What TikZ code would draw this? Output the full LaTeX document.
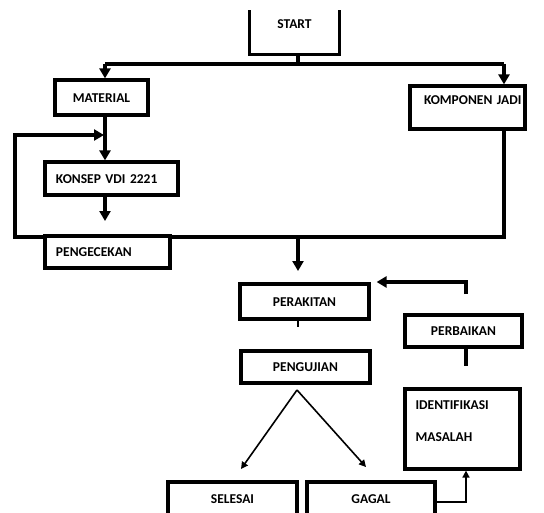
\documentclass[tikz,border=0pt]{standalone}
\usepackage{fontspec}
\setmainfont{Carlito}[BoldFont={Carlito Bold}]
\usetikzlibrary{%
  calc,
  positioning,
  backgrounds,
  arrows.meta,
}

\tikzset{
  box/.style={draw, line width=3.2pt, fill=white,
    font=\bfseries\fontsize{13.5}{15}\selectfont,
    text height=9pt, text depth=0pt, inner sep=0pt},
  conn/.style={line width=3.4pt},
  bigtip/.style={-{Triangle[length=10pt,width=11pt]}},
  thinarrow/.style={line width=1.6pt, -{Triangle[length=7pt,width=7pt]}},
}

\begin{document}
\begin{tikzpicture}[x=1pt,y=-1pt]
        \useasboundingbox (0,0) rectangle (544,512);
        \clip (0,0) rectangle (544,512);
        % units = pixels, y grows downwards

        \coordinate (jl) at (105,64);
        \coordinate (jm) at (298,64);
        \coordinate (jr) at (504,64);
        \coordinate (low) at (15,237);
        \coordinate (back) at (15,135);
        \coordinate (cekin) at (105,221);
        \coordinate (mid) at (298,237);
        \coordinate (rakitin) at (298,271);
        \coordinate (fixup) at (466,294);
        \coordinate (fixtop) at (466,282);
        \coordinate (fork) at (297,390);
        \coordinate (toselesai) at (241,469);
        \coordinate (togagal) at (366,467);

        \node (start) [box, draw=none, minimum width=87pt,
          minimum height=41pt, text depth=17pt] at (294.5,32.5) {START};
        \draw[line width=3.2pt] (start.north west) -- (start.south west)
          -- (start.south east) -- (start.north east);

        \node (material) [box, minimum width=93pt,
          minimum height=35pt] at (101.5,97.5) {MATERIAL};
        \node (komponen) [box, minimum height=43pt, text width=87pt,
          align=left, inner xsep=14pt, text depth=15pt]
          at (467.5,107.5) {\mbox{KOMPONEN JADI}};
        \node (konsep) [box, minimum height=33pt, text width=111pt,
          align=left, inner xsep=11pt] at (111.5,178.5) {KONSEP VDI 2221};
        \node (cek) [box, minimum height=32pt, text width=103pt,
          align=left, inner xsep=11pt] at (107.5,252) {PENGECEKAN};

        \node (rakit) [box, minimum width=129pt,
          minimum height=35pt] at (304.5,301.5) {PERAKITAN};
        \node (baik) [box, minimum width=117pt,
          minimum height=32pt] at (463.5,331) {PERBAIKAN};
        \node (uji) [box, minimum width=129pt,
          minimum height=32pt] at (305.5,367) {PENGUJIAN};

        \node (ident) [box, minimum width=115pt,
          minimum height=80pt] at (462.5,429) {};
        \node (identtxt) [anchor=north west, align=left, inner sep=0pt,
          font=\bfseries\fontsize{13.5}{15}\selectfont]
          at ([shift={(12,13)}]ident.north west)
          {IDENTIFIKASI\\[17pt]MASALAH};

        \node (selesai) [box, minimum width=129pt, minimum height=40pt,
          text depth=6pt] at (232.5,502) {SELESAI};
        \node (gagal) [box, minimum width=128pt, minimum height=40pt,
          text depth=6pt] at (371,502) {GAGAL};

        \begin{scope}[on background layer]
          \draw[conn] (start.south -| jm) -- (jm);
          \draw[conn] (jl) -- (jr);
          \draw[conn, bigtip] (jl) -- (jl |- material.north);
          \draw[conn, bigtip] (jr) -- (jr |- komponen.north);
          \draw[conn, bigtip] (material.south -| jl) -- (jl |- konsep.north);
          \draw[conn, bigtip] (jl |- konsep.south) -- (cekin);

          % loop back from pengecekan
          \draw[conn, bigtip] (jr |- komponen.south) |- (low)
            -- (back) -- ([xshift=-1pt]back -| jl);
          \draw[conn, bigtip] (mid) -- (rakitin);
          \draw[line width=1.6pt] (rakit.south -| mid) -- ++(0,6);

          \draw[conn, bigtip] (fixup) -- (fixtop)
            -- ([xshift=6pt]fixtop -| rakit.east);
          \draw[conn] (baik.south -| fixup) -- ++(0,17);

          \draw[thinarrow] (fork) -- (toselesai);
          \draw[thinarrow] (fork) -- (togagal);
          \draw[thinarrow] (gagal.east) -| (ident.south -| fixup);
        \end{scope}
      \end{tikzpicture}
\end{document}
